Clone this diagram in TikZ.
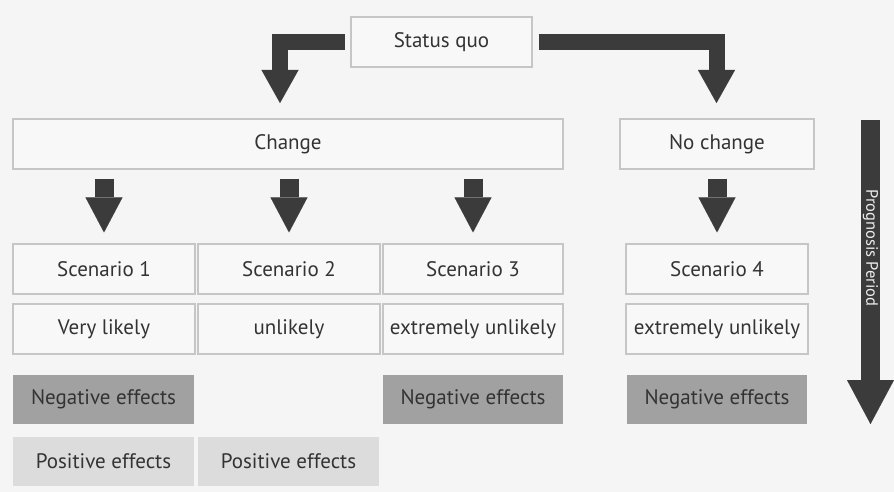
\documentclass[tikz,border=0pt]{standalone}
\usepackage{fontspec}
\setmainfont{PT Sans}
\usetikzlibrary{arrows.meta,calc}
\definecolor{bg}{HTML}{F5F5F5}
\definecolor{boxfill}{HTML}{F8F8F8}
\definecolor{boxline}{HTML}{C6C6C6}
\definecolor{negfill}{HTML}{A1A1A1}
\definecolor{posfill}{HTML}{DCDCDC}
\definecolor{arr}{HTML}{3B3B3B}
\definecolor{txt}{HTML}{333333}
\definecolor{lighttxt}{HTML}{EEEEEE}
\begin{document}
\begin{tikzpicture}[x=1pt,y=-1pt,
  box/.style={draw=boxline, line width=1.2pt, fill=boxfill, inner sep=0pt,
    text=txt, font=\fontsize{21}{24}\selectfont, minimum height=50pt},
  negbox/.style={fill=negfill, inner sep=0pt, text=txt,
    font=\fontsize{21}{24}\selectfont, minimum height=49pt, minimum width=181pt},
  posbox/.style={fill=posfill, inner sep=0pt, text=txt,
    font=\fontsize{21}{24}\selectfont, minimum height=49pt, minimum width=181pt},
  bendarrow/.style={draw=arr, line width=16pt, line join=miter,
    -{Triangle[width=37pt,length=33pt,line width=0.01pt]}},
  downarrow/.style={draw=arr, line width=19pt,
    -{Triangle[width=37pt,length=35pt,line width=0.01pt]}},
  progarrow/.style={draw=arr, line width=19pt,
    -{Triangle[width=47pt,length=44pt,line width=0.01pt]}}
]
\fill[bg] (0,0) rectangle (894,492);
\useasboundingbox (0,0) rectangle (894,492);

% top
\node[box, minimum width=181pt] (sq) at (441.5,42) {Status quo};

% second row
\node[box, minimum width=550pt] (change) at (288,144) {Change};
\node[box, minimum width=194pt] (nochange) at (717,144) {No change};

% scenarios
\node[box, minimum width=182pt] (s1) at (104,269) {Scenario 1};
\node[box, minimum width=182pt] (s2) at (289,269) {Scenario 2};
\node[box, minimum width=180pt] (s3) at (473,269) {Scenario 3};
\node[box, minimum width=182pt] (s4) at (717,269) {Scenario 4};

% likelihoods
\node[box, minimum width=182pt] (l1) at (104,329) {Very likely};
\node[box, minimum width=182pt] (l2) at (289,329) {unlikely};
\node[box, minimum width=180pt] (l3) at (473,329) {extremely unlikely};
\node[box, minimum width=182pt] (l4) at (717,329) {extremely unlikely};

% effects
\node[negbox] (n1) at (103.5,399.5) {Negative effects};
\node[negbox, minimum width=180pt] (n3) at (473,399.5) {Negative effects};
\node[negbox, minimum width=180pt] (n4) at (717,399.5) {Negative effects};
\node[posbox] (p1) at (103.5,461.5) {Positive effects};
\node[posbox] (p2) at (288.5,461.5) {Positive effects};

% bent arrows from status quo
\coordinate (cl) at (280,103);
\coordinate (cr) at (716.5,103);
\draw[bendarrow] ($(sq.west)+(-5,0)$) -| (cl);
\draw[bendarrow] ($(sq.east)+(6,0)$) -| (cr);

% down arrows
\foreach \s in {s1,s2,s3}{
  \draw[downarrow] ($(change.south -| \s.north)+(0,9)$) -- ($(\s.north)+(0,-11)$);
}
\draw[downarrow] ($(nochange.south)+(0,9)$) -- ($(s4.north)+(0,-11)$);

% prognosis period
\coordinate (pt) at (870.5,120);
\coordinate (pb) at (870.5,424);
\draw[progarrow] (pt) -- (pb);
\node[rotate=-90, text=lighttxt, font=\fontsize{16.5}{18}\selectfont, inner sep=0pt] (pp) at (870.5,248) {Prognosis Period};
\end{tikzpicture}
\end{document}
